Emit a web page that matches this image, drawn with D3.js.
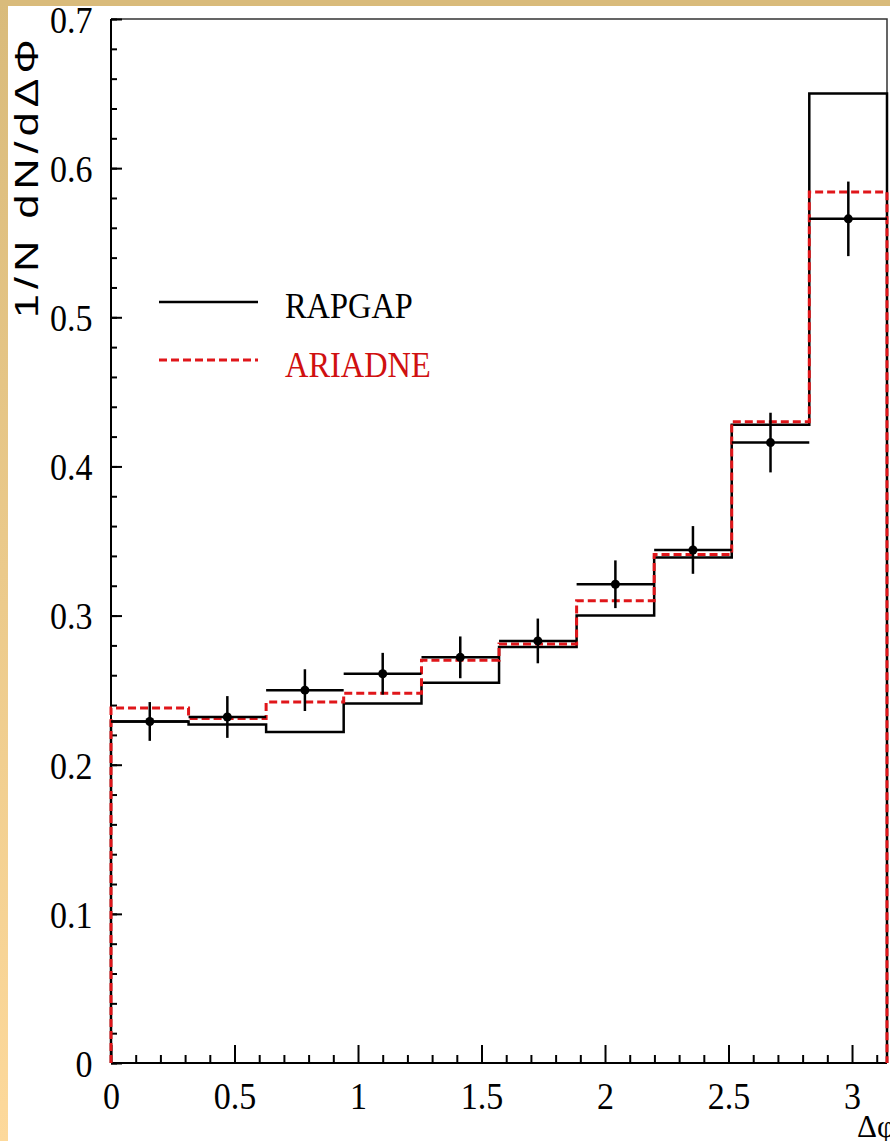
<!DOCTYPE html>
<html>
<head>
<meta charset="utf-8">
<script src="https://cdn.jsdelivr.net/npm/d3@7"></script>
<style>
  html, body { margin: 0; padding: 0; background: #fff; }
  svg { display: block; }
  .tick-label { font-family: "Liberation Serif", "Times New Roman", serif; fill: #000; }
</style>
</head>
<body>
<div id="chart"></div>
<script>
// bin edges in delta phi (10 bins from 0 to pi)
const binEdges = [0, 0.314, 0.628, 0.942, 1.257, 1.571, 1.885, 2.199, 2.513, 2.827, 3.1416];
// data points (bin centres) with statistical errors
const dataCentres = [0.157, 0.471, 0.785, 1.100, 1.414, 1.728, 2.042, 2.356, 2.670, 2.985];
const dataValues = [0.229, 0.232, 0.250, 0.261, 0.272, 0.283, 0.321, 0.344, 0.416, 0.566];
const dataErrors = [0.013, 0.014, 0.014, 0.014, 0.014, 0.015, 0.016, 0.016, 0.020, 0.025];
// monte carlo predictions per bin
const rapgap = [0.229, 0.227, 0.222, 0.241, 0.255, 0.279, 0.300, 0.339, 0.428, 0.650];
const ariadne = [0.238, 0.231, 0.242, 0.248, 0.270, 0.281, 0.310, 0.341, 0.430, 0.584];
// axis ticks
const xMajorTicks = [0, 0.5, 1, 1.5, 2, 2.5, 3];
const xMinorTicks = [0.1, 0.2, 0.3, 0.4, 0.6, 0.7, 0.8, 0.9, 1.1, 1.2, 1.3, 1.4, 1.6, 1.7, 1.8, 1.9,
  2.1, 2.2, 2.3, 2.4, 2.6, 2.7, 2.8, 2.9, 3.1];
const yMajorTicks = [0, 0.1, 0.2, 0.3, 0.4, 0.5, 0.6, 0.7];
const legendNames = ["RAPGAP", "ARIADNE"];

class StepHistogram {
  constructor(_config) {
    this.config = {
      parentElement: _config.parentElement,
      containerWidth: 890,
      containerHeight: 1141,
      margin: { top: 19, right: 3, bottom: 78, left: 111 },
    };
    this.initVis();
  }

  initVis() {
    let vis = this;
    vis.width = vis.config.containerWidth - vis.config.margin.left - vis.config.margin.right;
    vis.height = vis.config.containerHeight - vis.config.margin.top - vis.config.margin.bottom;

    vis.svg = d3.select(vis.config.parentElement).append("svg")
      .attr("width", vis.config.containerWidth)
      .attr("height", vis.config.containerHeight);

    // tan frame of the slide
    const defs = vis.svg.append("defs");
    const grad = defs.append("linearGradient").attr("id", "side-grad")
      .attr("x1", 0).attr("x2", 0).attr("y1", 0).attr("y2", 1);
    grad.append("stop").attr("offset", "0%").attr("stop-color", "#d9bb7b");
    grad.append("stop").attr("offset", "100%").attr("stop-color", "#fdd99b");
    vis.svg.append("rect").attr("x", 0).attr("y", 0).attr("width", 8)
      .attr("height", vis.config.containerHeight).attr("fill", "url(#side-grad)");
    vis.svg.append("rect").attr("x", 0).attr("y", 0).attr("width", vis.config.containerWidth)
      .attr("height", 6).attr("fill", "#d9bb7b");

    vis.chart = vis.svg.append("g")
      .attr("transform", `translate(${vis.config.margin.left},${vis.config.margin.top})`);

    vis.xScale = d3.scaleLinear().domain([0, 3.1416]).range([0, vis.width]);
    vis.yScale = d3.scaleLinear().domain([0, 0.7]).range([vis.height, 0]);

    vis.renderVis();
  }

  renderVis() {
    let vis = this;
    const x = vis.xScale, y = vis.yScale;

    // frame top + right
    vis.chart.append("path")
      .attr("d", `M0,0H${vis.width}V${vis.height}`)
      .attr("fill", "none").attr("stroke", "#333").attr("stroke-width", 1.5);

    // x axis: major + minor ticks pointing inward
    const xAxisG = vis.chart.append("g").attr("transform", `translate(0,${vis.height})`);
    xAxisG.append("g")
      .call(d3.axisBottom(x).tickValues(xMinorTicks).tickSize(-8).tickFormat(""))
      .call(g => g.select(".domain").remove());
    xAxisG.append("g")
      .call(d3.axisBottom(x).tickValues(xMajorTicks).tickSize(-18).tickPadding(0)
        .tickFormat(d => String(d)))
      .call(g => g.select(".domain").remove());
    xAxisG.selectAll("line").attr("stroke", "#000").attr("stroke-width", 2);
    xAxisG.selectAll("text")
      .attr("class", "tick-label")
      .attr("font-size", 37)
      .attr("dy", null)
      .attr("y", 46)
      .attr("transform", "scale(0.92,1)");
    xAxisG.append("line").attr("x1", 0).attr("x2", vis.width)
      .attr("stroke", "#000").attr("stroke-width", 2);

    // y axis
    const yAxisG = vis.chart.append("g");
    yAxisG.append("g")
      .call(d3.axisLeft(y).tickValues(d3.range(0, 0.7001, 0.02)).tickSize(-6).tickFormat(""))
      .call(g => g.select(".domain").remove());
    yAxisG.append("g")
      .call(d3.axisLeft(y).tickValues(yMajorTicks).tickSize(-11).tickPadding(20)
        .tickFormat(d => d === 0 ? "0" : d3.format(".1f")(d)))
      .call(g => g.select(".domain").remove());
    yAxisG.selectAll("line").attr("stroke", "#000").attr("stroke-width", 2);
    yAxisG.selectAll("text")
      .attr("class", "tick-label")
      .attr("font-size", 37)
      .attr("dy", "0.36em")
      .attr("transform", "scale(0.92,1)");
    yAxisG.append("line").attr("y1", 0).attr("y2", vis.height)
      .attr("stroke", "#000").attr("stroke-width", 2);

    // step outline for a histogram, closed to zero at both ends
    const stepPath = (vals) => {
      let p = d3.path();
      p.moveTo(x(binEdges[0]), y(0));
      vals.forEach((v, i) => {
        p.lineTo(x(binEdges[i]), y(v));
        p.lineTo(x(binEdges[i + 1]), y(v));
      });
      p.lineTo(x(binEdges[binEdges.length - 1]), y(0));
      return p.toString();
    };

    vis.chart.append("path").attr("d", stepPath(rapgap))
      .attr("fill", "none").attr("stroke", "#000").attr("stroke-width", 2.5);
    vis.chart.append("path").attr("d", stepPath(ariadne))
      .attr("fill", "none").attr("stroke", "#e0161a").attr("stroke-width", 3)
      .attr("stroke-dasharray", "8,4");

    // data points with error bars
    const pts = vis.chart.selectAll(".pt").data(dataValues).join("g").attr("class", "pt");
    pts.append("line")
      .attr("x1", (d, i) => x(binEdges[i])).attr("x2", (d, i) => x(binEdges[i + 1]))
      .attr("y1", d => y(d)).attr("y2", d => y(d))
      .attr("stroke", "#000").attr("stroke-width", 2.5);
    pts.append("line")
      .attr("x1", (d, i) => x(dataCentres[i])).attr("x2", (d, i) => x(dataCentres[i]))
      .attr("y1", (d, i) => y(d + dataErrors[i])).attr("y2", (d, i) => y(d - dataErrors[i]))
      .attr("stroke", "#000").attr("stroke-width", 2.5);
    pts.append("circle")
      .attr("cx", (d, i) => x(dataCentres[i])).attr("cy", d => y(d))
      .attr("r", 4.5).attr("fill", "#000");

    // legend
    const legend = vis.svg.append("g");
    const legendRows = [
      { name: legendNames[0], color: "#000", dash: null, y: 302, ty: 318, w: 2.5 },
      { name: legendNames[1], color: "#e0161a", dash: "8,4", y: 360, ty: 377, w: 3 },
    ];
    legendRows.forEach(r => {
      legend.append("line").attr("x1", 159).attr("x2", 258).attr("y1", r.y).attr("y2", r.y)
        .attr("stroke", r.color).attr("stroke-width", r.w).attr("stroke-dasharray", r.dash);
      legend.append("text")
        .attr("transform", `translate(285,${r.ty}) scale(0.9,1)`)
        .attr("font-family", "Liberation Serif, Times New Roman, serif")
        .attr("font-size", 36).attr("fill", r.color === "#000" ? "#000" : "#d01010")
        .text(r.name);
    });

    // axis titles
    vis.svg.append("text")
      .attr("transform", "translate(38,318) rotate(-90)")
      .attr("font-family", "Liberation Sans, Arial, sans-serif")
      .attr("font-size", 33)
      .attr("letter-spacing", 4)
      .attr("textLength", 284).attr("lengthAdjust", "spacingAndGlyphs")
      .text("1/N dN/dΔΦ");
    vis.svg.append("text")
      .attr("x", 857).attr("y", 1137)
      .attr("font-family", "Liberation Serif, Times New Roman, serif")
      .attr("font-size", 31)
      .text("Δφ");
  }
}

const chart = new StepHistogram({ parentElement: "#chart" });
</script>
</body>
</html>
